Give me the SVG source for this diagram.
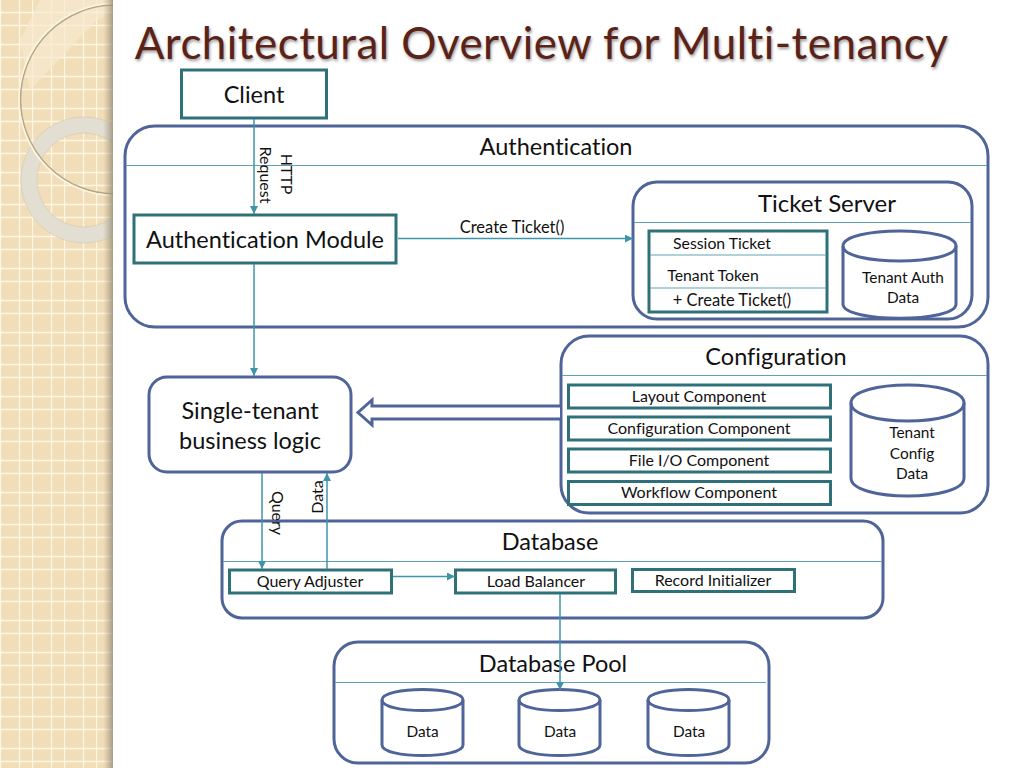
<svg xmlns="http://www.w3.org/2000/svg" width="1024" height="768" viewBox="0 0 1024 768">
<style>
text{font-family:"Lato","Liberation Sans",sans-serif;fill:#111;text-anchor:middle;font-variant-ligatures:none}
.g{fill:#fff;stroke:#4f6498;stroke-width:3}
.t{fill:#fff;stroke:#2f7079;stroke-width:3}
.d{fill:none;stroke:#4f6498;stroke-width:3}
.h{stroke:#5fa3b5;stroke-width:1.2;fill:none}
.c{stroke:#3f94aa;stroke-width:1.5;fill:none;marker-end:url(#a)}
.s{font-size:15.400px}.m{font-size:16px}.l{font-size:23.500px}
</style>
<defs>
<marker id="a" markerUnits="userSpaceOnUse" markerWidth="10" markerHeight="10" refX="8" refY="4" orient="auto"><path d="M0 0L8 4L0 8Z" fill="#3f94aa"/></marker>
<pattern id="p" patternUnits="userSpaceOnUse" width="32" height="32">
<rect width="32" height="32" fill="#f1deb9"/>
<path d="M.5 0V32M19.5 0V32M0 12.5H32M0 25.5H32" stroke="#fdf6e2" stroke-width="1.4"/>
</pattern>
<linearGradient id="sh"><stop offset="0" stop-color="#a89a80" stop-opacity="0"/><stop offset="1" stop-color="#8f846f" stop-opacity=".75"/></linearGradient>
<clipPath id="cl"><rect width="113" height="768"/></clipPath>
<filter id="ts" x="-5%" y="-20%" width="110%" height="140%"><feGaussianBlur stdDeviation="1.5"/></filter>
</defs>
<rect width="1024" height="768" fill="#fff"/>
<g clip-path="url(#cl)">
<rect width="113" height="768" fill="url(#p)"/>
<path d="M30 90L95 22L113 10V0H40L20 40Z" fill="#f7ead0" opacity=".7"/>
<path d="M84 117a63 63 0 1 0 .01 0ZM84 133a47 47 0 1 1-.01 0Z" fill="#e2ded2" fill-rule="evenodd" stroke="#d0c7b0" stroke-width=".6"/>
<circle cx="115" cy="99.500" r="94.500" fill="none" stroke="#b5a684" stroke-width="1.6"/>
<circle cx="115" cy="99.500" r="96" fill="none" stroke="#fbf5e3" stroke-width="1.6"/>
<rect x="103" width="10" height="768" fill="url(#sh)"/>
</g>
<g id="title">
<text x="542.500" y="61" font-size="44" style="fill:#999;letter-spacing:.45px" filter="url(#ts)">Architectural Overview for Multi-tenancy</text>
<text x="541.500" y="59" font-size="44" style="fill:#5b2218;letter-spacing:.45px">Architectural Overview for Multi-tenancy</text>
</g>
<g id="client"><rect class="t" x="181.500" y="70" width="145" height="48"/><text class="l" x="254" y="103">Client</text></g>
<g id="authentication"><rect class="g" x="125" y="126" width="863" height="201" rx="30"/><path class="h" d="M126 165.500H987"/><text class="l" x="556" y="155">Authentication</text></g>
<g id="ticket-server"><rect class="g" x="633" y="182" width="339" height="137" rx="24"/><path class="h" d="M634 222.500H971"/><text class="l" x="827" y="212" style="font-size:24px">Ticket Server</text></g>
<g id="session-ticket"><rect class="t" x="649" y="231" width="178" height="81"/><path class="h" d="M650 255H826M650 288H826"/>
<text class="s" x="722" y="249" style="font-size:15.800px">Session Ticket</text><text class="s" x="713" y="281" style="font-size:15.800px">Tenant Token</text><text class="s" x="732" y="306" style="font-size:16.500px">+ Create Ticket()</text></g>
<g id="tenant-auth-data"><path class="g" d="M843 246C843 226 956 226 956 246V304C956 323 843 323 843 304Z"/><path class="d" d="M843 246C843 266 956 266 956 246"/><text class="s" x="903" y="283">Tenant Auth</text><text class="s" x="903" y="303">Data</text></g>
<g id="auth-module"><rect class="t" x="134" y="215" width="262" height="48"/><text class="l" x="265" y="248">Authentication Module</text></g>
<g id="configuration"><rect class="g" x="561" y="336" width="427" height="177" rx="28"/><path class="h" d="M562 375.500H987"/><text class="l" x="776" y="365">Configuration</text></g>
<g id="layout-component"><rect class="t" x="568.500" y="385" width="262" height="23"/><text class="m" x="699" y="402">Layout Component</text></g>
<g id="configuration-component"><rect class="t" x="568.500" y="417" width="262" height="23"/><text class="m" x="699" y="434">Configuration Component</text></g>
<g id="file-component"><rect class="t" x="568.500" y="449" width="262" height="23"/><text class="m" x="699" y="466">File I/O Component</text></g>
<g id="workflow-component"><rect class="t" x="568.500" y="481.500" width="262" height="23"/><text class="m" x="699" y="498">Workflow Component</text></g>
<g id="tenant-config-data"><path class="g" d="M851 403C851 379 964 379 964 403V478C964 502 851 502 851 478Z"/><path class="d" d="M851 403C851 427 964 427 964 403"/><text class="s" x="912" y="438">Tenant</text><text class="s" x="912" y="459">Config</text><text class="s" x="912" y="479">Data</text></g>
<g id="business-logic"><rect class="g" x="149" y="377" width="202" height="95" rx="18"/><text class="l" x="250" y="419">Single-tenant</text><text class="l" x="250" y="449">business logic</text></g>
<g id="database"><rect class="g" x="222" y="521" width="661" height="97" rx="20"/><path class="h" d="M223 561.500H882"/><text class="l" x="550" y="550">Database</text></g>
<g id="query-adjuster"><rect class="t" x="229.500" y="570" width="162" height="23"/><text class="m" x="310" y="587">Query Adjuster</text></g>
<g id="load-balancer"><rect class="t" x="455.500" y="570" width="160" height="23"/><text class="m" x="536" y="587">Load Balancer</text></g>
<g id="record-initializer"><rect class="t" x="632.500" y="569.500" width="162" height="22"/><text class="m" x="713" y="586">Record Initializer</text></g>
<g id="database-pool"><rect class="g" x="334" y="642" width="435" height="121" rx="24"/><path class="h" d="M335 682.500H766"/><text class="l" x="553" y="672">Database Pool</text></g>
<g id="data-1"><path class="g" d="M382 700C382 686 463 686 463 700V745C463 759 382 759 382 745Z"/><path class="d" d="M382 700C382 714 463 714 463 700"/><text class="s" x="422.500" y="737">Data</text></g>
<g id="data-2"><path class="g" d="M519 700C519 686 600 686 600 700V745C600 759 519 759 519 745Z"/><path class="d" d="M519 700C519 714 600 714 600 700"/><text class="s" x="560" y="737">Data</text></g>
<g id="data-3"><path class="g" d="M648 700C648 686 729 686 729 700V745C729 759 648 759 648 745Z"/><path class="d" d="M648 700C648 714 729 714 729 700"/><text class="s" x="689" y="737">Data</text></g>
<g id="connectors">
<path class="c" d="M254 119V214"/>
<path class="c" d="M254 264V376"/>
<path class="c" d="M398 238.500H633"/>
<path class="c" d="M262 473V569"/>
<path class="c" d="M327 569V473"/>
<path class="c" d="M393 576.500H455"/>
<path class="c" d="M560 594V690"/>
<path d="M560 406H372V400L358 412.500L372 425V419H560" fill="#fff" stroke="#4f6498" stroke-width="3"/>
</g>
<g id="labels">
<text class="m" transform="translate(281 174) rotate(90)">HTTP</text>
<text class="m" transform="translate(260 175) rotate(90)">Request</text>
<text class="m" style="font-size:16.500px" x="512" y="233">Create Ticket()</text>
<text class="m" transform="translate(272 513) rotate(90)">Query</text>
<text class="m" transform="translate(323 497) rotate(-90)">Data</text>
</g>
</svg>
